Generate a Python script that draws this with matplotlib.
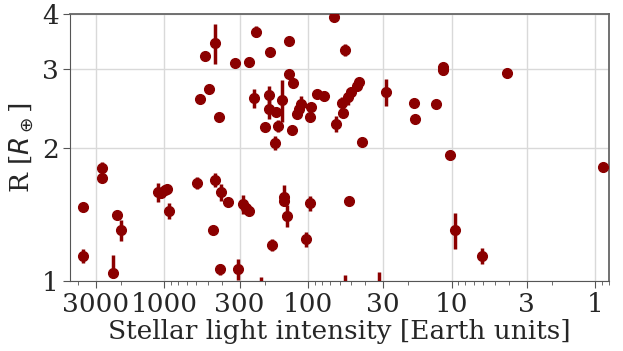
import numpy as np
import matplotlib
matplotlib.use("Agg")
import matplotlib.pyplot as plt
from matplotlib.ticker import FixedLocator, FixedFormatter, LogLocator, NullLocator, NullFormatter

# stellar light intensity [Earth units], radius [R_earth], radius error (lower, upper)
insolation = [3670, 3670, 2710, 2710, 2270, 2130, 2000, 1112, 1052, 994,
              957, 926, 591, 446, 401, 362, 458, 407, 308, 284,
              270, 258, 214, 178, 148, 147, 140, 103, 97.3, 51.5,
              42.0, 10.2, 9.47, 54.9, 32.1, 6.14, 0.887,
              441, 526, 324, 258, 229, 183, 136, 491, 561,
              415, 239, 186, 188, 166, 151, 136, 127, 200, 161,
              169, 129, 120, 116, 111, 95.5, 97.3, 86.4, 77.5, 66,
              54.9, 63.7, 57.9, 57.0, 52.3, 49.9, 45.8, 44.1, 28.5, 18.4,
              18.0, 12.8, 11.55, 11.55, 4.08]
radius = [1.471, 1.14, 1.795, 1.704, 1.04, 1.409, 1.303, 1.585, 1.577, 1.604,
          1.609, 1.438, 1.666, 1.69, 1.585, 1.507, 1.303, 1.063, 1.063, 1.489,
          1.463, 1.438, 0.95, 1.206, 1.55, 1.515, 1.404, 1.242, 1.497, 1.512,
          2.062, 1.92, 1.303, 0.95, 0.95, 1.14, 1.805,
          3.44, 3.21, 3.10, 3.12, 3.65, 3.29, 3.48, 2.705, 2.573,
          2.347, 2.582, 2.62, 2.439, 2.408, 2.559, 2.93, 2.79, 2.221, 2.236,
          2.05, 2.19, 2.376, 2.439, 2.507, 2.462, 2.34, 2.636, 2.613, 3.93,
          3.32, 2.263, 2.516, 2.388, 2.604, 2.67, 2.75, 2.815, 2.665, 2.516,
          2.319, 2.507, 3.04, 2.99, 2.95]
err_lo = [0.02, 0.04, 0.06, 0.02, 0.024, 0.02, 0.07, 0.08, 0.03, 0.03,
          0.03, 0.06, 0.05, 0.06, 0.07, 0.02, 0.02, 0.03, 0.06, 0.07,
          0.03, 0.02, 0.07, 0.04, 0.03, 0.03, 0.08, 0.05, 0.06, 0.02,
          0.02, 0.02, 0.12, 0.08, 0.10, 0.045, 0.02,
          0.36, 0.02, 0.02, 0.08, 0.10, 0.02, 0.02, 0.02, 0.02,
          0.03, 0.13, 0.13, 0.12, 0.02, 0.28, 0.03, 0.02, 0.02, 0.07,
          0.075, 0.02, 0.04, 0.03, 0.10, 0.02, 0.03, 0.03, 0.07, 0.02,
          0.10, 0.09, 0.08, 0.03, 0.11, 0.05, 0.03, 0.03, 0.19, 0.02,
          0.02, 0.02, 0.03, 0.08, 0.02]
err_hi = [0.02, 0.04, 0.06, 0.02, 0.105, 0.02, 0.07, 0.08, 0.03, 0.03,
          0.03, 0.06, 0.05, 0.06, 0.07, 0.02, 0.02, 0.03, 0.06, 0.07,
          0.03, 0.02, 0.07, 0.04, 0.10, 0.03, 0.08, 0.05, 0.06, 0.02,
          0.02, 0.02, 0.12, 0.08, 0.10, 0.045, 0.02,
          0.36, 0.02, 0.02, 0.08, 0.10, 0.02, 0.02, 0.02, 0.02,
          0.03, 0.13, 0.13, 0.12, 0.02, 0.28, 0.03, 0.02, 0.02, 0.07,
          0.075, 0.02, 0.04, 0.03, 0.10, 0.02, 0.03, 0.03, 0.07, 0.02,
          0.10, 0.09, 0.08, 0.03, 0.11, 0.05, 0.03, 0.03, 0.19, 0.02,
          0.02, 0.02, 0.03, 0.08, 0.02]

x_ticks = [3000, 1000, 300, 100, 30, 10, 3, 1]
x_ticklabels = ["3000", "1000", "300", "100", "30", "10", "3", "1"]
y_ticks = [1, 2, 3, 4]
y_ticklabels = ["1", "2", "3", "4"]

plt.rcParams["font.family"] = ["DejaVu Serif"]
plt.rcParams["mathtext.fontset"] = "dejavusans"

fig = plt.figure(figsize=(6.23, 3.51), dpi=100)
ax = fig.add_axes([70 / 623, 1 - 281 / 351, 539 / 623, 267 / 351])

ax.errorbar(insolation, radius, yerr=[err_lo, err_hi], fmt="o", color="darkred",
            markersize=7, elinewidth=2.5, capsize=0, zorder=3)

ax.set_xscale("log")
ax.set_yscale("log")
ax.set_xlim(4550, 0.8)
ax.set_ylim(1, 4)

ax.xaxis.set_major_locator(FixedLocator(x_ticks))
ax.xaxis.set_major_formatter(FixedFormatter(x_ticklabels))
ax.xaxis.set_minor_locator(LogLocator(base=10, subs=np.arange(2, 10)))
ax.xaxis.set_minor_formatter(NullFormatter())
ax.yaxis.set_major_locator(FixedLocator(y_ticks))
ax.yaxis.set_major_formatter(FixedFormatter(y_ticklabels))
ax.yaxis.set_minor_locator(NullLocator())

ax.grid(True, which="major", color="#d9d9d9", linewidth=1)
ax.set_axisbelow(True)
for side in ["left", "bottom"]:
    ax.spines[side].set_color("#555555")
for side in ["top", "right"]:
    ax.spines[side].set_color("#666666")
    ax.spines[side].set_linewidth(1.3)

ax.tick_params(axis="both", which="major", length=5, color="#555555",
               labelsize=19, labelcolor="#262626", pad=3)
ax.tick_params(axis="x", which="minor", length=3, color="#555555")

ax.set_xlabel("Stellar light intensity [Earth units]", fontsize=19, color="#262626", labelpad=1)
ax.set_ylabel(r"R [$R_\oplus$]", fontsize=19, color="#262626", labelpad=4)

fig.savefig("out.png", dpi=100)
